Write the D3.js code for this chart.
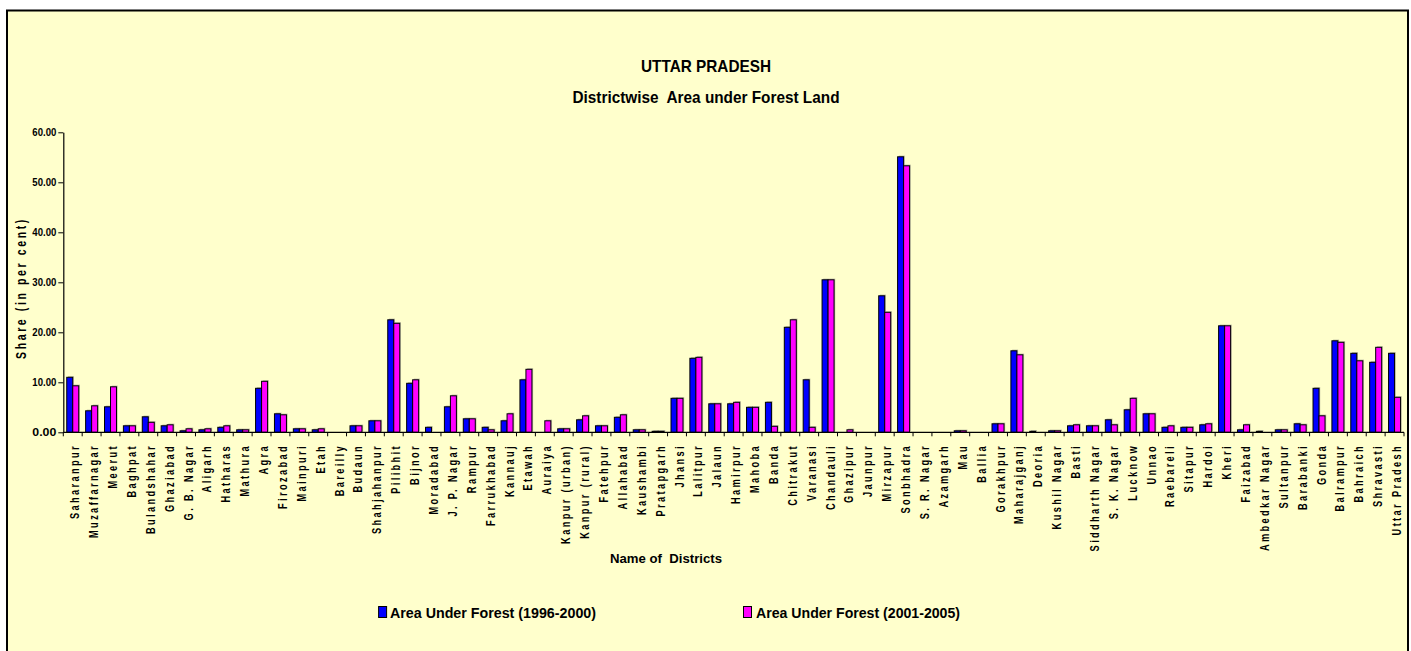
<!DOCTYPE html>
<html>
<head>
<meta charset="utf-8">
<script src="https://cdn.jsdelivr.net/npm/d3@7"></script>
<style>
  html, body { margin: 0; padding: 0; background: #ffffff; }
  svg { display: block; font-family: "Liberation Sans", Arial, sans-serif; }
  text { white-space: pre; }
</style>
</head>
<body>
<svg id="chart" width="1411" height="651"></svg>
<script>
const categories = ["Saharanpur","Muzaffarnagar","Meerut","Baghpat","Bulandshahar","Ghaziabad","G. B. Nagar","Aligarh","Hatharas","Mathura",
  "Agra","Firozabad","Mainpuri","Etah","Bareilly","Budaun","Shahjahanpur","Pilibhit","Bijnor","Moradabad",
  "J. P. Nagar","Rampur","Farrukhabad","Kannauj","Etawah","Auraiya","Kanpur (urban)","Kanpur (rural)","Fatehpur","Allahabad",
  "Kaushambi","Pratapgarh","Jhansi","Lalitpur","Jalaun","Hamirpur","Mahoba","Banda","Chitrakut","Varanasi",
  "Chandauli","Ghazipur","Jaunpur","Mirzapur","Sonbhadra","S. R. Nagar","Azamgarh","Mau","Ballia","Gorakhpur",
  "Maharajganj","Deoria","Kushil Nagar","Basti","Siddharth Nagar","S. K. Nagar","Lucknow","Unnao","Raebareli","Sitapur",
  "Hardoi","Kheri","Faizabad","Ambedkar Nagar","Sultanpur","Barabanki","Gonda","Balrampur","Bahraich","Shravasti","Uttar Pradesh"];

const series = ["Area Under Forest (1996-2000)", "Area Under Forest (2001-2005)"];

const forest1996 = [11.0,4.3,5.1,1.3,3.1,1.3,0.3,0.5,1.0,0.5,
  8.8,3.7,0.7,0.5,0,1.3,2.3,22.5,9.8,1.0,
  5.1,2.7,1.0,2.3,10.5,0,0.7,2.5,1.3,3.0,
  0.5,0.2,6.8,14.8,5.7,5.7,5.0,6.0,21.0,10.5,
  30.5,0,0,27.3,55.1,0,0,0.3,0,1.7,
  16.3,0.2,0.3,1.3,1.3,2.5,4.5,3.7,1.0,1.0,
  1.5,21.3,0.5,0.2,0.5,1.7,8.8,18.3,15.8,14.0,15.8];

const forest2001 = [9.3,5.3,9.1,1.3,2.0,1.5,0.7,0.7,1.3,0.5,
  10.2,3.5,0.7,0.7,0,1.3,2.3,21.8,10.5,0,
  7.3,2.7,0.5,3.7,12.6,2.3,0.7,3.3,1.3,3.5,
  0.5,0.2,6.8,15.0,5.7,6.0,5.0,1.2,22.5,1.0,
  30.5,0.5,0,24.0,53.3,0,0,0.3,0,1.7,
  15.5,0,0.3,1.5,1.3,1.5,6.8,3.7,1.3,1.0,
  1.7,21.3,1.5,0,0.5,1.5,3.3,18.0,14.3,17.0,7.0];

const yTicks = [0,10,20,30,40,50,60];
const colors = ["#0000FF", "#FF00FF"];

const svg = d3.select("#chart");

// chart area background + border
svg.append("rect").attr("x", 7).attr("y", 10.5).attr("width", 1401).attr("height", 700)
  .attr("fill", "#FFFFCC").attr("stroke", "#000").attr("stroke-width", 2);

const x = d3.scaleBand().domain(categories).range([63.3, 1404]).padding(0);
const bw = x.bandwidth();
const xs = d3.scaleBand().domain(series).range([bw / 2 - 6, bw / 2 + 6]).padding(0);
const y = d3.scaleLinear().domain([0, 60]).range([432.3, 132.3]);

// Titles
svg.append("text").attr("x", 706).attr("y", 72).attr("text-anchor", "middle")
  .attr("font-size", 17).attr("font-weight", "bold")
  .attr("textLength", 130).attr("lengthAdjust", "spacingAndGlyphs")
  .text("UTTAR PRADESH");
svg.append("text").attr("x", 706).attr("y", 103).attr("text-anchor", "middle")
  .attr("font-size", 17).attr("font-weight", "bold")
  .attr("textLength", 267).attr("lengthAdjust", "spacingAndGlyphs")
  .text("Districtwise  Area under Forest Land");

// Bars
const data = categories.map((c, i) => ({ c, vals: [forest1996[i], forest2001[i]] }));
const groups = svg.append("g").selectAll("g").data(data).join("g")
  .attr("transform", d => `translate(${x(d.c)},0)`);

// shadows
groups.selectAll("rect.sh").data(d => d.vals.map((v, k) => ({ v, s: series[k], k })).filter(e => e.v > 0))
  .join("rect").attr("class", "sh")
  .attr("x", e => xs(e.s) + 1.2).attr("y", e => y(e.v) - 1.2)
  .attr("width", xs.bandwidth()).attr("height", e => y(0) - y(e.v))
  .attr("fill", "#8a8a80").attr("opacity", 0.55);

groups.selectAll("rect.bar").data(d => d.vals.map((v, k) => ({ v, s: series[k], k })).filter(e => e.v > 0))
  .join("rect").attr("class", "bar")
  .attr("x", e => xs(e.s)).attr("y", e => y(e.v))
  .attr("width", xs.bandwidth()).attr("height", e => y(0) - y(e.v))
  .attr("fill", e => colors[e.k]).attr("stroke", "#000").attr("stroke-width", 1);

// Y axis
const yAxis = svg.append("g").attr("transform", "translate(63.3,0)")
  .call(d3.axisLeft(y).tickValues(yTicks).tickFormat(d3.format(".2f")).tickSize(5).tickPadding(2).tickSizeOuter(0));
yAxis.select(".domain").attr("stroke", "#000").attr("stroke-width", 1.2);
yAxis.selectAll(".tick line").attr("stroke", "#000");
yAxis.selectAll(".tick text")
  .attr("font-size", 11).attr("font-weight", "bold").attr("fill", "#000")
  .attr("font-family", "'Liberation Sans', Arial, sans-serif")
  .attr("textLength", 24).attr("lengthAdjust", "spacingAndGlyphs");

// X axis line and boundary ticks
const xr = x.range();
svg.append("line").attr("x1", xr[0]).attr("x2", xr[1]).attr("y1", y(0)).attr("y2", y(0))
  .attr("stroke", "#000").attr("stroke-width", 1.2);
const bounds = categories.map(c => x(c)).concat([xr[1]]);
svg.append("g").selectAll("line").data(bounds).join("line")
  .attr("x1", d => d).attr("x2", d => d).attr("y1", y(0)).attr("y2", y(0) + 4)
  .attr("stroke", "#000").attr("stroke-width", 1);

// Category labels
svg.append("g").selectAll("g").data(categories).join("g")
  .attr("transform", c => `translate(${x(c) + bw / 2 + 6.5},444) rotate(-90) scale(0.74,1)`)
  .append("text")
  .attr("text-anchor", "end").attr("font-size", 12.5).attr("font-weight", "bold")
  .style("letter-spacing", "3.2px")
  .text(c => c);

// Y axis title
svg.append("g").attr("transform", "translate(26,288) rotate(-90) scale(0.75,1)")
  .append("text").attr("text-anchor", "middle").attr("font-size", 14).attr("font-weight", "bold")
  .style("letter-spacing", "3.5px")
  .text("Share (in per cent)");

// X axis title
svg.append("text").attr("x", 666).attr("y", 563).attr("text-anchor", "middle")
  .attr("font-size", 13).attr("font-weight", "bold")
  .attr("textLength", 112).attr("lengthAdjust", "spacingAndGlyphs")
  .text("Name of  Districts");

// Legend
const legendPos = [{ sx: 378.6, tx: 390, w: 206 }, { sx: 743.5, tx: 756, w: 204 }];
const leg = svg.append("g").selectAll("g").data(series).join("g");
leg.append("rect").attr("x", (d, i) => legendPos[i].sx).attr("y", 606.5).attr("width", 8).attr("height", 11)
  .attr("fill", (d, i) => colors[i]).attr("stroke", "#000").attr("stroke-width", 1);
leg.append("text").attr("x", (d, i) => legendPos[i].tx).attr("y", 617.5)
  .attr("font-size", 14).attr("font-weight", "bold")
  .attr("textLength", (d, i) => legendPos[i].w).attr("lengthAdjust", "spacingAndGlyphs")
  .text(d => d);
</script>
</body>
</html>
